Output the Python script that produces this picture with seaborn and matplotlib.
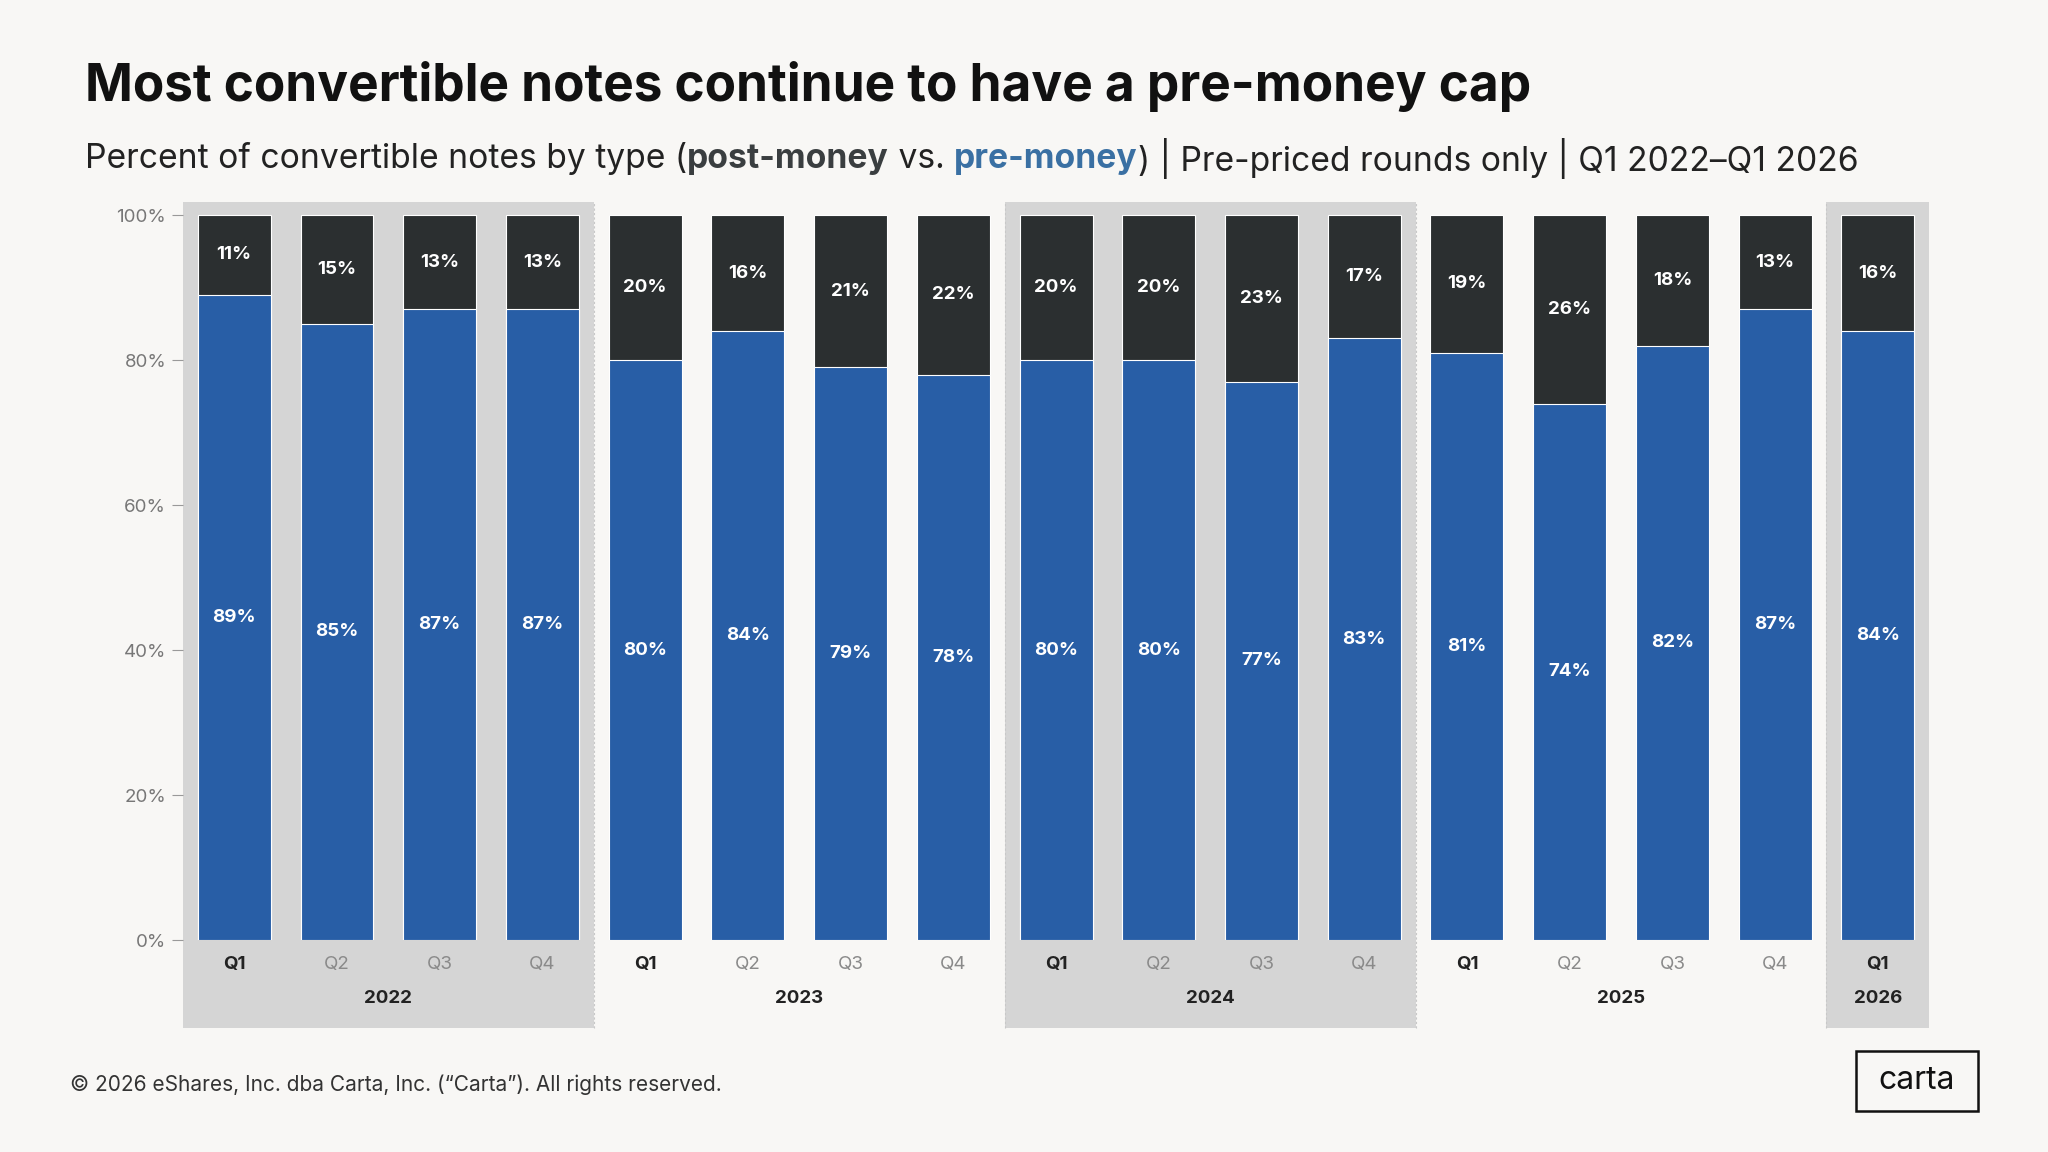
import matplotlib.pyplot as plt
import seaborn as sns
import pandas as pd
from matplotlib.patches import Rectangle

quarters = ["Q1", "Q2", "Q3", "Q4"] * 4 + ["Q1"]
years = ["2022", "2023", "2024", "2025", "2026"]
pre_money = [89, 85, 87, 87, 80, 84, 79, 78, 80, 80, 77, 83, 81, 74, 82, 87, 84]
post_money = [11, 15, 13, 13, 20, 16, 21, 22, 20, 20, 23, 17, 19, 26, 18, 13, 16]

BG = "#f8f7f5"
BLUE = "#285ea6"
DARK = "#2b2f30"
BAND = "#d5d5d5"

sns.set_theme(style="white")
plt.rcParams["font.family"] = ["Inter", "DejaVu Sans"]

df = pd.DataFrame({"idx": range(len(pre_money)), "pre": pre_money, "total": [a + b for a, b in zip(pre_money, post_money)]})

fig = plt.figure(figsize=(20.48, 11.52), dpi=100, facecolor=BG)
ax = fig.add_axes([0.0893, 0.184, 0.8527, 0.6406])
ax.set_facecolor("none")

# year bands
for start, end in [(-0.5, 3.5), (7.5, 11.5), (15.5, 16.5)]:
    ax.add_patch(Rectangle((start, -0.1186), end - start, 1.1186, transform=ax.get_xaxis_transform(),
                           facecolor=BAND, edgecolor="none", clip_on=False, zorder=0))
for b in [3.5, 7.5, 11.5, 15.5]:
    ax.axvline(b, ymin=-0.1186, ymax=1, color="#c8c8c8", lw=0.8, ls=(0, (2, 2)), clip_on=False, zorder=0)

sns.barplot(data=df, x="idx", y="total", color=DARK, width=0.71, saturation=1, ax=ax, zorder=2)
sns.barplot(data=df, x="idx", y="pre", color=BLUE, width=0.71, saturation=1, ax=ax, zorder=3)
for p in ax.patches:
    if p.get_zorder() >= 2:
        p.set_edgecolor("white")
        p.set_linewidth(0.8)

for i, (a, b) in enumerate(zip(pre_money, post_money)):
    ax.text(i, a / 2, f"{a}%", ha="center", va="center", color="white", fontsize=13.5, fontweight="bold", zorder=5)
    ax.text(i, a + b / 2, f"{b}%", ha="center", va="center", color="white", fontsize=13.5, fontweight="bold", zorder=5)

ax.set_xlim(-0.5, 16.5)
ax.set_ylim(0, 101.8)
ax.set_yticks(range(0, 101, 20))
ax.set_yticklabels([f"{v}%" for v in range(0, 101, 20)], color="#777777", fontsize=13.5)
ax.tick_params(axis="y", length=8, color="#999999", width=0.8, pad=4, left=True)
ax.set_xticks(range(len(quarters)))
ax.set_xticklabels([])
ax.tick_params(axis="x", length=0)
ax.set_xlabel("")
ax.set_ylabel("")
for s in ax.spines.values():
    s.set_visible(False)

xt = ax.get_xaxis_transform()
for i, q in enumerate(quarters):
    bold = q == "Q1"
    ax.text(i, -0.033, q, transform=xt, ha="center", va="center", fontsize=13.5,
            color="#222222" if bold else "#8a8a8a", fontweight="bold" if bold else "normal")
for k, y in enumerate(years):
    cx = 1.5 + 4 * k if k < 4 else 16
    ax.text(cx, -0.079, y, transform=xt, ha="center", va="center", fontsize=13.5, fontweight="bold", color="#222222")

fig.text(0.0415, 0.925, "Most convertible notes continue to have a pre-money cap", fontsize=37,
         fontweight="bold", color="#111111", va="center")

# subtitle with coloured words
pieces = [("Percent of convertible notes by type (", "#222222", "normal"),
          ("post-money", "#3a3e40", "bold"),
          (" vs. ", "#222222", "normal"),
          ("pre-money", "#3a70a3", "bold"),
          (") | Pre-priced rounds only | Q1 2022\u2013Q1 2026", "#222222", "normal")]
fig.canvas.draw()
r = fig.canvas.get_renderer()
x = 0.0415
for txt, col, w in pieces:
    t = fig.text(x, 0.862, txt, fontsize=24.2, color=col, fontweight=w, va="center")
    bb = t.get_window_extent(renderer=r)
    x += bb.width / fig.bbox.width

fig.text(0.034, 0.058, "\u00a9 2026 eShares, Inc. dba Carta, Inc. (\u201cCarta\u201d). All rights reserved.",
         fontsize=15, color="#333333", va="center")
fig.patches.append(Rectangle((0.9063, 0.036), 0.0593, 0.052, transform=fig.transFigure,
                             facecolor="none", edgecolor="#111111", lw=1.8))
fig.text(0.936, 0.062, "carta", fontsize=23, color="#111111", ha="center", va="center")

fig.savefig("out.png", dpi=100, facecolor=BG)
